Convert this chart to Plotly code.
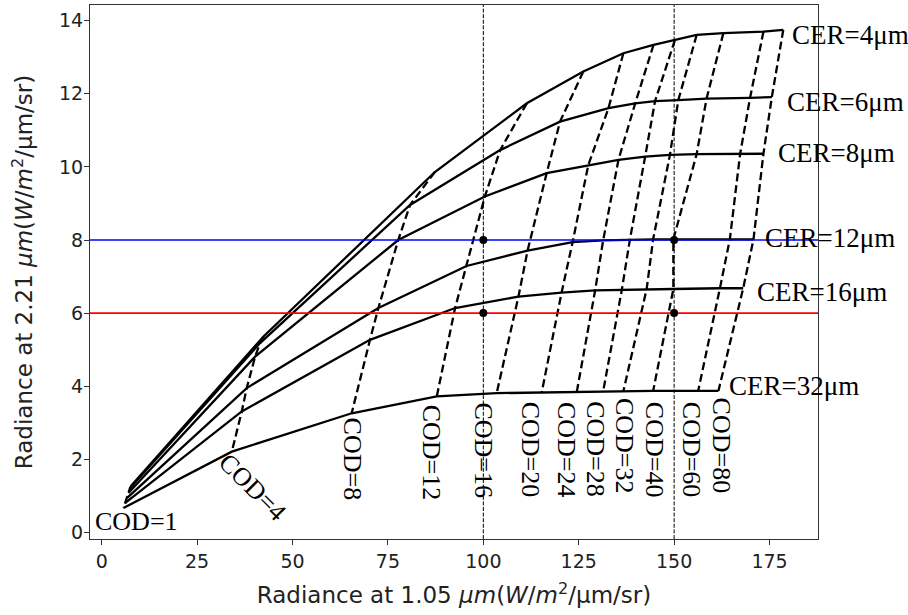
import plotly.graph_objects as go

# ---- data ----
cod_values = [1, 4, 8, 12, 16, 20, 24, 28, 32, 40, 60, 80]
cer_values = [4, 6, 8, 12, 16, 32]

# Radiance at 1.05 um for each CER along the COD values
r105_cer4 = [7.9, 42.4, 87.3, 111.4, 126.2, 136.7, 144.6, 150.2, 155.9, 162.9, 173.4, 178.6]
r105_cer6 = [7.4, 41.5, 80.8, 104.4, 120.1, 132.8, 139.8, 145.0, 151.1, 158.5, 169.9, 175.6]
r105_cer8 = [7.0, 40.2, 77.7, 100.4, 116.6, 127.5, 135.4, 142.4, 148.9, 155.9, 167.3, 173.4]
r105_cer12 = [6.6, 38.0, 72.5, 95.6, 111.6, 123.4, 131.4, 138.4, 144.5, 149.8, 164.6, 170.8]
r105_cer16 = [6.1, 36.7, 70.3, 92.6, 109.2, 120.5, 129.3, 136.3, 142.8, 149.8, 162.0, 168.1]
r105_cer32 = [5.7, 34.1, 65.5, 87.8, 103.5, 115.3, 124.5, 131.4, 136.7, 144.5, 156.3, 161.6]

# Radiance at 2.21 um for each CER along the COD values
r221_cer4 = [1.30, 5.36, 9.86, 11.74, 12.61, 13.11, 13.34, 13.47, 13.61, 13.66, 13.70, 13.75]
r221_cer6 = [1.21, 5.18, 8.96, 10.46, 11.24, 11.61, 11.74, 11.80, 11.83, 11.87, 11.89, 11.91]
r221_cer8 = [1.08, 4.81, 8.00, 9.19, 9.83, 10.05, 10.19, 10.28, 10.33, 10.35, 10.36, 10.36]
r221_cer12 = [0.94, 3.95, 6.14, 7.29, 7.71, 7.94, 7.99, 8.01, 8.02, 8.02, 8.02, 8.02]
r221_cer16 = [0.80, 3.31, 5.27, 6.14, 6.45, 6.56, 6.62, 6.64, 6.66, 6.66, 6.68, 6.68]
r221_cer32 = [0.67, 2.21, 3.26, 3.72, 3.81, 3.83, 3.85, 3.86, 3.86, 3.87, 3.87, 3.87]

# observed radiance levels and sample points
obs_221 = [8, 6]
obs_105 = [100, 150]
pt_x = [100, 150, 100, 150]
pt_y = [8, 8, 6, 6]

r105 = [r105_cer4, r105_cer6, r105_cer8, r105_cer12, r105_cer16, r105_cer32]
r221 = [r221_cer4, r221_cer6, r221_cer8, r221_cer12, r221_cer16, r221_cer32]

XR = [-3.07, 187.7]
YR = [-0.18, 14.43]

# ---- label offsets (pixels) ----
cer_label_shift = [(7, -5), (13, -5), (13, 1), (9, 1), (12, -4), (9, 5)]
cod_label_shift = [(13, -14), (21, -36), (1, -46), (-5, -56), (-13, -57), (-11, -57),
                   (-11, -58), (-7, -58), (1, -55), (1, -59), (-7, -59), (3, -55)]

fig = go.Figure()

# vertical observation lines
for xv in obs_105:
    fig.add_shape(type="line", xref="x", yref="paper", x0=xv, x1=xv, y0=0, y1=1,
                  line=dict(color="black", width=1, dash="4px,1.6px"))

# COD (dashed) lines
for j, c in enumerate(cod_values):
    fig.add_trace(go.Scatter(
        x=[r105[i][j] for i in range(len(cer_values))],
        y=[r221[i][j] for i in range(len(cer_values))],
        mode="lines", line=dict(color="black", width=2.3, dash="8px,4px"),
        showlegend=False, hoverinfo="skip"))

# CER (solid) lines
for i, ce in enumerate(cer_values):
    fig.add_trace(go.Scatter(x=r105[i], y=r221[i], mode="lines",
                             line=dict(color="black", width=2.3),
                             showlegend=False, hoverinfo="skip"))

# horizontal observation lines
for yv, col in zip(obs_221, ["#0000ff", "#ff0000"]):
    fig.add_trace(go.Scatter(x=XR, y=[yv, yv], mode="lines",
                             line=dict(color=col, width=1.6),
                             showlegend=False, hoverinfo="skip"))

# sample points
fig.add_trace(go.Scatter(x=pt_x, y=pt_y, mode="markers",
                         marker=dict(color="black", size=8),
                         showlegend=False, hoverinfo="skip"))

serif_cer = dict(family="Liberation Serif, Times New Roman, serif", size=27, color="black")
serif_cod = dict(family="Liberation Serif, Times New Roman, serif", size=26, color="black")

# CER labels
for i, ce in enumerate(cer_values):
    dx, dy = cer_label_shift[i]
    fig.add_annotation(x=r105[i][-1], y=r221[i][-1], text=f"CER={ce}μm",
                       showarrow=False, xanchor="left", yanchor="middle",
                       xshift=dx, yshift=dy, font=serif_cer)

# COD labels (below the CER=32 curve)
for j, c in enumerate(cod_values):
    dx, dy = cod_label_shift[j]
    ang = 0 if c == 1 else (45 if c == 4 else 90)
    fig.add_annotation(x=r105_cer32[j], y=r221_cer32[j], text=f"COD={c}",
                       showarrow=False, xanchor="center", yanchor="middle",
                       xshift=dx, yshift=dy, textangle=ang, font=serif_cod)

axis_common = dict(showgrid=False, zeroline=False, showline=True, mirror=True,
                   linecolor="#333333", linewidth=1, ticks="outside", ticklen=5,
                   tickcolor="#333333", automargin=False,
                   tickfont=dict(family="DejaVu Sans", size=19, color="#222222"))

fig.update_xaxes(range=XR, tickvals=[0, 25, 50, 75, 100, 125, 150, 175],
                 title=dict(text="Radiance at 1.05 <i>μm</i>(<i>W</i>/<i>m</i><sup>2</sup>/μm/sr)",
                            font=dict(family="DejaVu Sans", size=23, color="#222222"),
                            standoff=16),
                 **axis_common)
fig.update_yaxes(range=YR, tickvals=[0, 2, 4, 6, 8, 10, 12, 14],
                 ticklabelstandoff=-3,
                 title=dict(text="Radiance at 2.21 <i>μm</i>(<i>W</i>/<i>m</i><sup>2</sup>/μm/sr)",
                            font=dict(family="DejaVu Sans", size=23, color="#222222"),
                            standoff=19),
                 **axis_common)

fig.update_layout(width=908, height=615, margin=dict(l=90, r=90, t=5, b=76),
                  plot_bgcolor="white", paper_bgcolor="white")

fig.write_html("out.html", config={"displayModeBar": False},
               post_script="document.body.style.margin='0px';document.body.style.overflow='hidden';")
